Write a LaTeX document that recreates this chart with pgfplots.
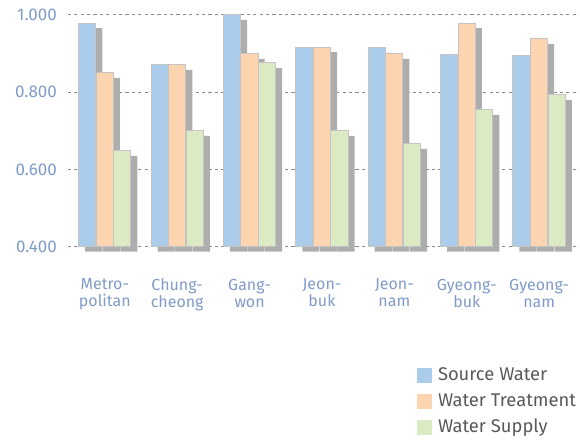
\documentclass[border=0pt]{standalone}
\usepackage{fontspec}
\setmainfont{Fira Sans}
\usepackage{pgfplots}
\pgfplotsset{compat=1.18}
\definecolor{srcblue}{HTML}{ABCDEB}
\definecolor{treatpeach}{HTML}{FCD5B0}
\definecolor{supgreen}{HTML}{DCEAC3}
\definecolor{shadowgray}{HTML}{ADADAD}
\definecolor{edgegray}{HTML}{C4C4C4}
\definecolor{ticklab}{HTML}{7F9BC8}
\definecolor{legtext}{HTML}{595959}
\definecolor{gridc}{HTML}{8A8A8A}
\begin{document}
\begin{tikzpicture}[
  shadowbar/.style={preaction={fill=shadowgray,draw=none,transform canvas={xshift=3.25pt,yshift=-2.5pt}}}]
\begin{axis}[
  at={(0,0)}, anchor=south west,
  scale only axis, width=256pt, height=116pt,
  ybar, bar width=8.6pt,
  clip=false,
  xmin=-0.51, xmax=6.55,
  ymin=0, ymax=0.6,
  y filter/.expression={y-0.4},
  ytick={0,0.2,0.4,0.6},
  yticklabels={0.400,0.600,0.800,1.000},
  xtick={0,1,2,3,4,5,6},
  xticklabels={{Metro-\\politan},{Chung-\\cheong},{Gang-\\won},{Jeon-\\buk},{Jeon-\\nam},{Gyeong-\\buk},{Gyeong-\\nam}},
  xticklabel style={align=center, text=ticklab, font=\fontsize{8}{8.5}\selectfont, yshift=-12.7pt},
  yticklabel style={text=ticklab, font=\fontsize{8.5}{9}\selectfont, xshift=-2pt},
  /pgf/number format/assume math mode=true,
  major tick length=0pt,
  axis line style={draw=none},
  ymajorgrids,
  grid style={gridc, dash pattern=on 1.6pt off 1.6pt, line width=0.5pt},
  legend style={at={(rel axis cs:0.682,-0.505)}, anchor=north west, draw=none, fill=none,
    font=\fontsize{9.2}{9.4}\selectfont, text=legtext, row sep=0.9pt, inner sep=0pt},
  legend cell align=left,
  legend image code/.code={\fill[#1,draw=none] (0pt,-3.7pt) rectangle (7.5pt,3.7pt); \path (0pt,0pt) -- (8.6pt,0pt);},
]
\addlegendimage{fill=srcblue,draw=none}
\addlegendentry{Source Water}
\addlegendimage{fill=treatpeach,draw=none}
\addlegendentry{Water Treatment}
\addlegendimage{fill=supgreen,draw=none}
\addlegendentry{Water Supply}
\addplot[forget plot, bar shift=-8.8pt, shadowbar, fill=srcblue, draw=edgegray, line width=0.5pt] coordinates {
  (0,0.979) (1,0.871) (2,1.000) (3,0.915) (4,0.915) (5,0.897) (6,0.894)};
\addplot[forget plot, bar shift=0pt, shadowbar, fill=treatpeach, draw=edgegray, line width=0.5pt] coordinates {
  (0,0.850) (1,0.871) (2,0.899) (3,0.917) (4,0.899) (5,0.979) (6,0.938)};
\addplot[forget plot, bar shift=8.8pt, shadowbar, fill=supgreen, draw=edgegray, line width=0.5pt] coordinates {
  (0,0.648) (1,0.700) (2,0.876) (3,0.700) (4,0.666) (5,0.754) (6,0.793)};
\end{axis}
\useasboundingbox (-34pt,-98pt) rectangle (256pt,123.5pt);
\end{tikzpicture}
\end{document}
